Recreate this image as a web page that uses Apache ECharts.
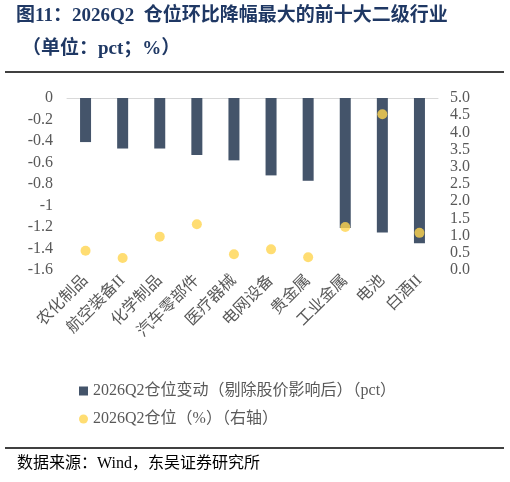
<!DOCTYPE html><html><head><meta charset="utf-8"><script src="https://cdn.jsdelivr.net/npm/echarts@6/dist/echarts.min.js"></script></head><body style="margin:0"><div id="c" style="width:510px;height:482px"></div><script>
const categories=['农化制品','航空装备II','化学制品','汽车零部件','医疗器械','电网设备','贵金属','工业金属','电池','白酒II'];
const changeValues=[-0.41,-0.47,-0.47,-0.53,-0.58,-0.72,-0.77,-1.21,-1.25,-1.35];
const positionValues=[0.56,0.35,0.97,1.33,0.46,0.6,0.37,1.25,4.53,1.08];
const ser="'Liberation Serif','Noto Sans CJK SC',serif";
const c=echarts.init(document.getElementById('c'));
c.setOption({
 animation:false,
 grid:{left:67,right:72,top:98,bottom:212},
 graphic:[
  {type:'text',left:16,top:7,style:{text:'图11：2026Q2  仓位环比降幅最大的前十大二级行业',font:"bold 19px "+ser,fill:'#1f3864'}},
  {type:'text',left:22,top:40,style:{text:'（单位：pct；%）',font:"bold 19px "+ser,fill:'#1f3864'}},
  {type:'line',shape:{x1:5,y1:72,x2:504,y2:72},style:{stroke:'#000',lineWidth:1.5}},
  {type:'line',shape:{x1:5,y1:448,x2:504,y2:448},style:{stroke:'#000',lineWidth:1.5}},
  {type:'text',left:17,top:456,style:{text:'数据来源：Wind，东吴证券研究所',font:"16px "+ser,fill:'#000'}}
 ],
 legend:{orient:'vertical',left:74,top:378,itemGap:12,itemWidth:9,itemHeight:9,textStyle:{fontFamily:ser,fontSize:16,color:'#595959'},
  data:[{name:'2026Q2仓位变动（剔除股价影响后）（pct）',icon:'rect'},{name:'2026Q2仓位（%）（右轴）',icon:'circle'}]},
 xAxis:[
  {type:'category',data:categories,position:'top',axisLine:{show:true,lineStyle:{color:'#d9d9d9'}},axisTick:{show:false},axisLabel:{show:false}},
  {type:'category',data:categories,position:'bottom',axisLine:{show:false},axisTick:{show:false},
   axisLabel:{interval:0,rotate:45,margin:8,fontFamily:ser,fontSize:16,color:'#595959'}}
 ],
 yAxis:[
  {type:'value',min:-1.6,max:0,interval:0.2,splitLine:{show:false},axisLine:{show:false},axisTick:{show:false},
   axisLabel:{fontFamily:ser,fontSize:16,color:'#595959',margin:14,formatter:v=>String(Math.round(v*10)/10)}},
  {type:'value',min:0,max:5,interval:0.5,splitLine:{show:false},axisLine:{show:false},axisTick:{show:false},
   axisLabel:{fontFamily:ser,fontSize:16,color:'#595959',margin:12,formatter:v=>v.toFixed(1)}}
 ],
 series:[
  {name:'2026Q2仓位变动（剔除股价影响后）（pct）',type:'bar',data:changeValues,barWidth:11,itemStyle:{color:'#44546a'}},
  {name:'2026Q2仓位（%）（右轴）',type:'scatter',yAxisIndex:1,data:positionValues,symbolSize:10,itemStyle:{color:'#ffd54f'}}
 ]
});
</script></body></html>
